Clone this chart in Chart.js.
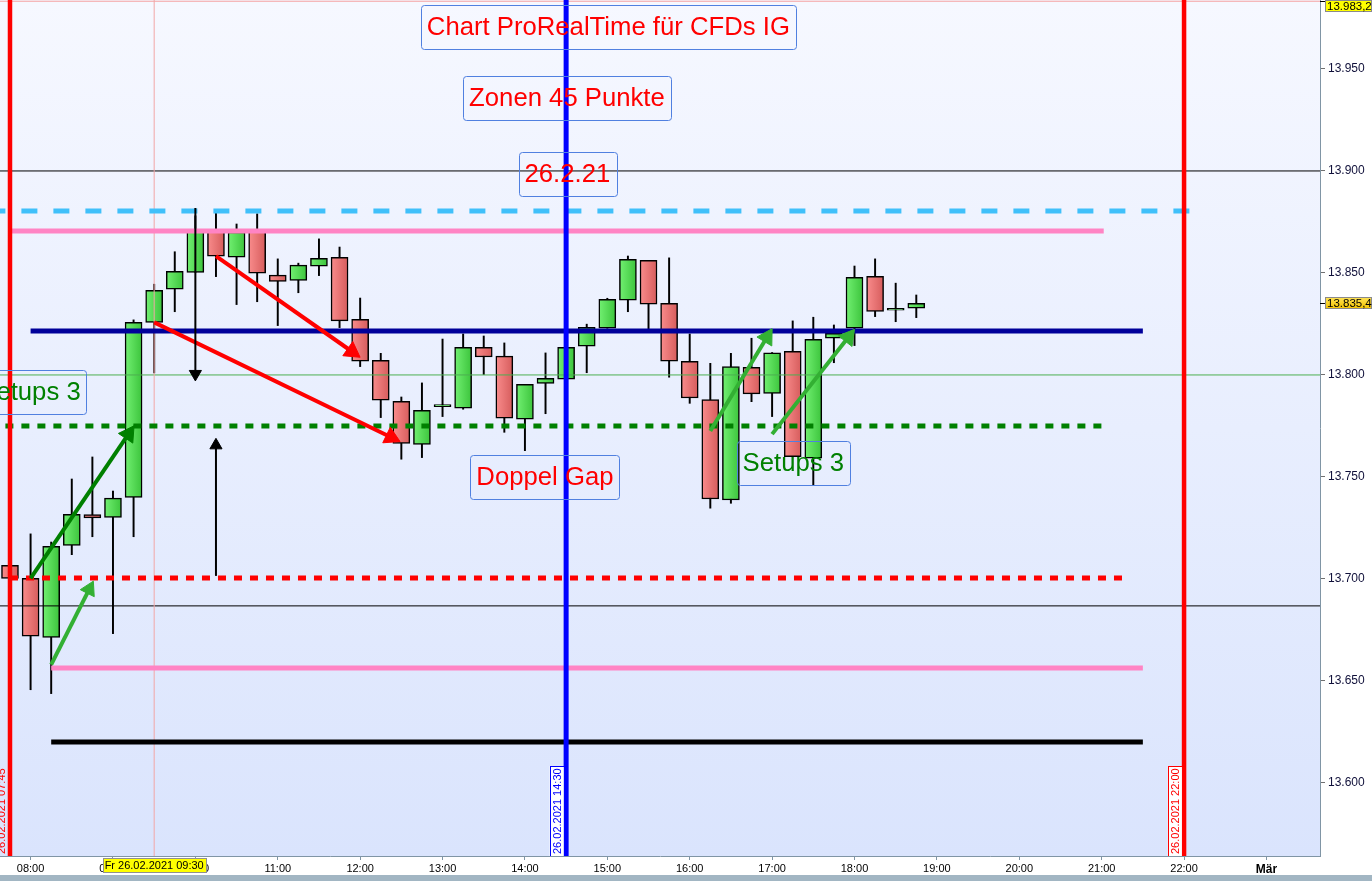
<!DOCTYPE html>
<html lang="de">
<head>
<meta charset="utf-8">
<title>Chart ProRealTime für CFDs IG</title>
<script src="https://cdn.jsdelivr.net/npm/chart.js@4.4.1/dist/chart.umd.min.js"></script>
<style>
  html, body { margin: 0; padding: 0; background: #ffffff; }
  #wrap { width: 1372px; height: 881px; }
</style>
</head>
<body>
<div id="wrap"><canvas id="chart" width="1372" height="881"></canvas></div>
<script>
// 15-minute candles, 26.02.2021
const times = ["07:45", "08:00", "08:15", "08:30", "08:45", "09:00", "09:15", "09:30", "09:45", "10:00",
  "10:15", "10:30", "10:45", "11:00", "11:15", "11:30", "11:45", "12:00", "12:15", "12:30",
  "12:45", "13:00", "13:15", "13:30", "13:45", "14:00", "14:15", "14:30", "14:45", "15:00",
  "15:15", "15:30", "15:45", "16:00", "16:15", "16:30", "16:45", "17:00", "17:15", "17:30",
  "17:45", "18:00", "18:15", "18:30", "18:45"];

const openVals = [13706.7, 13700.3, 13671.4, 13716.5, 13731.6, 13730.2, 13740.0, 13825.8, 13842.0, 13850.3,
  13871.0, 13857.7, 13870.5, 13848.9, 13846.4, 13853.3, 13857.7, 13827.3, 13807.2, 13787.1,
  13766.0, 13784.5, 13783.7, 13813.6, 13809.2, 13778.3, 13795.9, 13797.9, 13814.1, 13822.9,
  13836.6, 13856.2, 13835.1, 13806.7, 13787.9, 13738.7, 13803.8, 13791.0, 13811.6, 13759.2,
  13818.0, 13822.9, 13848.4, 13831.8, 13832.7];
const highVals = [13707.0, 13722.1, 13718.1, 13749.0, 13759.8, 13743.1, 13827.0, 13844.5, 13860.4, 13878.0,
  13880.9, 13874.0, 13879.0, 13856.9, 13854.8, 13866.7, 13862.7, 13837.7, 13810.6, 13789.2,
  13796.1, 13817.6, 13820.1, 13819.1, 13815.7, 13795.4, 13810.8, 13814.0, 13824.9, 13837.6,
  13858.3, 13856.2, 13857.4, 13820.1, 13805.7, 13810.6, 13818.0, 13811.0, 13826.5, 13828.3,
  13824.5, 13853.4, 13856.9, 13845.0, 13839.2];
const lowVals = [13700.0, 13645.7, 13643.8, 13711.9, 13720.7, 13673.2, 13720.7, 13801.0, 13831.0, 13850.3,
  13848.2, 13834.5, 13835.9, 13824.2, 13840.3, 13848.7, 13823.2, 13804.1, 13779.1, 13758.7,
  13759.5, 13779.6, 13783.2, 13800.2, 13771.9, 13762.9, 13781.0, 13797.0, 13801.1, 13822.9,
  13831.0, 13822.4, 13798.9, 13786.1, 13734.7, 13737.1, 13786.9, 13779.6, 13760.0, 13746.1,
  13806.0, 13814.4, 13828.6, 13826.1, 13828.1];
const closeVals = [13700.3, 13671.9, 13716.0, 13731.7, 13729.9, 13739.6, 13825.8, 13841.5, 13850.8, 13871.0,
  13858.2, 13870.0, 13849.9, 13845.9, 13853.8, 13857.2, 13826.5, 13806.7, 13787.6, 13766.5,
  13782.7, 13785.5, 13813.6, 13808.8, 13778.8, 13795.4, 13798.4, 13813.6, 13823.4, 13837.1,
  13856.7, 13834.7, 13806.7, 13788.7, 13739.2, 13804.1, 13790.7, 13810.9, 13760.0, 13817.5,
  13820.4, 13847.9, 13831.2, 13832.6, 13835.1];

// axis ticks (x in 15-min slots, slot 0 = 07:45)
const hourTicks = [1, 5, 9, 13, 17, 21, 25, 29, 33, 37, 41, 45, 49, 53, 57, 61];
const hourLabels = ["08:00", "09:00", "10:00", "11:00", "12:00", "13:00", "14:00", "15:00", "16:00",
  "17:00", "18:00", "19:00", "20:00", "21:00", "22:00", "Mär"];
const priceTicks = [13600, 13650, 13700, 13750, 13800, 13850, 13900, 13950];

// drawn zones: level, start slot, end slot
const zoneLevels = [13880.4, 13870.6, 13821.6, 13775.0, 13700.5, 13656.4, 13620.1];
const zoneFrom = [-1, 0, 1, -1, 0, 2, 2];
const zoneTo = [57.6, 53.1, 55.0, 53.1, 54.0, 55.0, 55.0];
const zoneStyles = [
  { color: "#40c0fa", width: 5, dash: [16, 16] },
  { color: "#ff84c4", width: 5, dash: [] },
  { color: "#00009a", width: 5, dash: [] },
  { color: "#008000", width: 5, dash: [8, 8] },
  { color: "#ff0000", width: 5, dash: [8, 8] },
  { color: "#ff84c4", width: 5, dash: [] },
  { color: "#000000", width: 5, dash: [] },
];

// thin full-width reference lines
const refLevels = [13983.2, 13900, 13800, 13686.8];
const refColors = ["#f4a0a0", "#000000", "#4caf50", "#000000"];

// vertical time markers (slot)
const markerSlots = [0, 27, 57, 7];
const markerLabels = ["26.02.2021 07:45", "26.02.2021 14:30", "26.02.2021 22:00", ""];
const markerStyles = [
  { color: "#ff0000", width: 4.5 },
  { color: "#0000ff", width: 5 },
  { color: "#ff0000", width: 4.5 },
  { color: "#f2a6a6", width: 1 },
];

// arrows: start slot/price -> arrowhead slot/price
const arrowStartX = [9, 10, 10, 7, 1, 2, 34, 37];
const arrowStartY = [13881.9, 13701.5, 13858.2, 13825.8, 13700.3, 13658.0, 13772.5, 13771.0];
const arrowEndX = [9, 10, 16.6, 18.5, 5.75, 3.85, 36.75, 40.7];
const arrowEndY = [13800.5, 13765.5, 13811.5, 13769.5, 13771.0, 13695.0, 13818.5, 13818.5];
const arrowStyles = [
  { color: "#000000", width: 2, head: 7 },
  { color: "#000000", width: 2, head: 7 },
  { color: "#ff0000", width: 4, head: 10 },
  { color: "#ff0000", width: 4, head: 10 },
  { color: "#008000", width: 4, head: 10 },
  { color: "#33b033", width: 4, head: 9 },
  { color: "#33b033", width: 4, head: 10 },
  { color: "#33b033", width: 4, head: 10 },
];

// text notes: text, slot, price (centre)
const noteTexts = ["Chart ProRealTime für CFDs IG", "Zonen 45 Punkte", "26.2.21", "Setups 3", "Doppel Gap", "Setups 3"];
const noteSlots = [29.05, 27.04, 27.06, 0.97, 25.97, 38.03];
const notePrices = [13970.6, 13935.8, 13898.5, 13791.7, 13750.0, 13756.9];
const noteColors = ["#ff0000", "#ff0000", "#ff0000", "#008000", "#ff0000", "#008000"];

const X_MIN = -0.485;
const X_MAX = 63.6;
const Y_MIN = 13564.2;
const Y_MAX = 13983.8;
const FONT = "'Liberation Sans', Arial, sans-serif";

const isUp = (i) => closeVals[i] >= openVals[i];

// horizontal gradient for candle bodies
const bodyFill = (ctx) => {
  const i = ctx.dataIndex;
  const up = isUp(i);
  const xs = ctx.chart.scales.x;
  if (!xs || !xs.width) return up ? "#55d855" : "#e87373";
  const cx = xs.getPixelForValue(i);
  const g = ctx.chart.ctx.createLinearGradient(cx - 8.5, 0, cx + 8.5, 0);
  g.addColorStop(0, up ? "#72f072" : "#f98c8c");
  g.addColorStop(1, up ? "#3cc43c" : "#d65c5c");
  return g;
};

// scales should not reserve room for overhanging labels
const noPadding = (scale) => {
  scale.paddingLeft = 0;
  scale.paddingRight = 0;
  scale.paddingTop = 0;
  scale.paddingBottom = 0;
};

const datasets = [];

datasets.push({
  type: "bar",
  label: "body",
  data: times.map((t, i) => ({ x: i, y: [openVals[i], closeVals[i]] })),
  backgroundColor: bodyFill,
  borderColor: "#000000",
  borderWidth: 1.5,
  borderSkipped: false,
  barThickness: 17,
  grouped: false,
  order: 9,
});

datasets.push({
  type: "bar",
  label: "wick",
  data: times.map((t, i) => ({ x: i, y: [lowVals[i], highVals[i]] })),
  backgroundColor: "#000000",
  borderWidth: 0,
  barThickness: 1.3,
  grouped: false,
  order: 10,
});

refLevels.forEach((v, k) => {
  datasets.push({
    type: "line",
    data: [{ x: X_MIN, y: v }, { x: X_MAX, y: v }],
    borderColor: refColors[k],
    borderWidth: 1,
    pointRadius: 0,
    order: 8,
  });
});

zoneLevels.forEach((v, k) => {
  const s = zoneStyles[k];
  datasets.push({
    type: "line",
    data: [{ x: zoneFrom[k], y: v }, { x: zoneTo[k], y: v }],
    borderColor: s.color,
    borderWidth: s.width,
    borderDash: s.dash,
    borderCapStyle: "butt",
    pointRadius: 0,
    order: 5,
  });
});

markerSlots.forEach((slot, k) => {
  const s = markerStyles[k];
  datasets.push({
    type: "line",
    data: [{ x: slot, y: Y_MIN - 10 }, { x: slot, y: Y_MAX + 10 }],
    borderColor: s.color,
    borderWidth: s.width,
    pointRadius: 0,
    order: k === 3 ? 7 : 4,
  });
});

// rotate the triangle so it points along the arrow shaft (in pixel space)
const headRotation = (k) => (ctx) => {
  const xs = ctx.chart.scales.x;
  const ys = ctx.chart.scales.y;
  if (!xs || !ys || !xs.width) return 0;
  const dx = xs.getPixelForValue(arrowEndX[k]) - xs.getPixelForValue(arrowStartX[k]);
  const dy = ys.getPixelForValue(arrowEndY[k]) - ys.getPixelForValue(arrowStartY[k]);
  return (Math.atan2(dy, dx) * 180) / Math.PI + 90;
};

arrowStartX.forEach((sx, k) => {
  const s = arrowStyles[k];
  datasets.push({
    type: "line",
    data: [{ x: sx, y: arrowStartY[k] }, { x: arrowEndX[k], y: arrowEndY[k] }],
    borderColor: s.color,
    borderWidth: s.width,
    pointStyle: "triangle",
    pointRadius: [0, s.head],
    pointBackgroundColor: s.color,
    pointBorderColor: s.color,
    pointBorderWidth: 1,
    pointRotation: headRotation(k),
    order: 1,
  });
});

const roundRect = (ctx, x, y, w, h, r) => {
  ctx.beginPath();
  ctx.moveTo(x + r, y);
  ctx.lineTo(x + w - r, y);
  ctx.quadraticCurveTo(x + w, y, x + w, y + r);
  ctx.lineTo(x + w, y + h - r);
  ctx.quadraticCurveTo(x + w, y + h, x + w - r, y + h);
  ctx.lineTo(x + r, y + h);
  ctx.quadraticCurveTo(x, y + h, x, y + h - r);
  ctx.lineTo(x, y + r);
  ctx.quadraticCurveTo(x, y, x + r, y);
  ctx.closePath();
};

const overlay = {
  id: "overlay",
  beforeDraw(chart) {
    const { ctx, chartArea: a } = chart;
    ctx.save();
    const g = ctx.createLinearGradient(0, a.top, 0, a.bottom);
    g.addColorStop(0, "#f6f8ff");
    g.addColorStop(1, "#dae4fd");
    ctx.fillStyle = g;
    ctx.fillRect(a.left, a.top, a.right - a.left, a.bottom - a.top);
    ctx.fillStyle = "#a2b6c3";
    ctx.fillRect(0, chart.height - 6, chart.width, 6);
    ctx.restore();
  },
  afterDraw(chart) {
    const { ctx, chartArea: a } = chart;
    const xs = chart.scales.x;
    const ys = chart.scales.y;
    ctx.save();
    ctx.beginPath();
    ctx.rect(a.left, a.top, a.right - a.left, a.bottom - a.top);
    ctx.clip();

    // note boxes
    ctx.font = "25.7px " + FONT;
    ctx.textAlign = "center";
    ctx.textBaseline = "middle";
    noteTexts.forEach((txt, k) => {
      const cx = xs.getPixelForValue(noteSlots[k]);
      const cy = ys.getPixelForValue(notePrices[k]);
      const w = ctx.measureText(txt).width + 12;
      const h = 44;
      ctx.lineWidth = 1;
      ctx.strokeStyle = "#5080e0";
      roundRect(ctx, Math.round(cx - w / 2) + 0.5, Math.round(cy - h / 2) + 0.5, Math.round(w), h, 3);
      ctx.stroke();
      ctx.fillStyle = noteColors[k];
      ctx.fillText(txt, cx, cy + 1);
    });

    // rotated date labels next to the vertical markers
    ctx.font = "11px " + FONT;
    markerSlots.forEach((slot, k) => {
      if (!markerLabels[k]) return;
      const px = xs.getPixelForValue(slot);
      const color = markerStyles[k].color;
      const bw = 14;
      const bh = 90;
      const bx = px - markerStyles[k].width / 2 - bw;
      const by = a.bottom - bh;
      if (k > 0) {
        ctx.fillStyle = "#ffffff";
        ctx.fillRect(bx, by, bw, bh);
        ctx.strokeStyle = color;
        ctx.lineWidth = 1;
        ctx.strokeRect(Math.round(bx) + 0.5, by + 0.5, bw, bh);
      }
      ctx.save();
      ctx.translate(bx + bw / 2 + 1, a.bottom - 2);
      ctx.rotate(-Math.PI / 2);
      ctx.textAlign = "left";
      ctx.textBaseline = "middle";
      ctx.fillStyle = color;
      ctx.fillText(markerLabels[k], 0, 0);
      ctx.restore();
    });
    ctx.restore();

    // price labels on the right axis
    ctx.save();
    ctx.font = "11.5px " + FONT;
    ctx.textAlign = "left";
    ctx.textBaseline = "middle";
    const priceTag = (value, text, fill) => {
      const py = ys.getPixelForValue(value);
      const top = Math.max(0, Math.round(py - 6));
      ctx.strokeStyle = "#000000";
      ctx.beginPath();
      ctx.moveTo(a.right, Math.round(py) + 0.5);
      ctx.lineTo(a.right + 5, Math.round(py) + 0.5);
      ctx.stroke();
      ctx.fillStyle = fill;
      ctx.fillRect(a.right + 5, top, 47, 12);
      ctx.strokeStyle = "#8a8a8a";
      ctx.strokeRect(a.right + 5.5, top + 0.5, 46, 11);
      ctx.fillStyle = "#000000";
      ctx.fillText(text, a.right + 7, top + 6.5);
    };
    priceTag(13983.2, "13.983,2", "#ffff00");
    const lg = ctx.createLinearGradient(0, ys.getPixelForValue(13835.4) - 6, 0, ys.getPixelForValue(13835.4) + 6);
    lg.addColorStop(0, "#ffe45a");
    lg.addColorStop(1, "#f5c400");
    priceTag(closeVals[closeVals.length - 1] + 0.3, "13.835,4", lg);

    // cursor time label under the x axis
    const tx = xs.getPixelForValue(7);
    ctx.font = "11px " + FONT;
    const label = "Fr 26.02.2021 09:30";
    const lw = ctx.measureText(label).width + 4;
    ctx.fillStyle = "#ffff00";
    ctx.fillRect(Math.round(tx - lw / 2), a.bottom + 2, Math.round(lw), 15);
    ctx.strokeStyle = "#909090";
    ctx.strokeRect(Math.round(tx - lw / 2) + 0.5, a.bottom + 2.5, Math.round(lw), 14);
    ctx.fillStyle = "#000000";
    ctx.textAlign = "center";
    ctx.fillText(label, tx, a.bottom + 10);
    ctx.restore();
  },
};

new Chart(document.getElementById("chart"), {
  type: "bar",
  data: { datasets },
  options: {
    responsive: false,
    animation: false,
    devicePixelRatio: 1,
    layout: { padding: 0, autoPadding: false },
    plugins: {
      legend: { display: false },
      tooltip: { enabled: false },
    },
    scales: {
      x: {
        type: "linear",
        min: X_MIN,
        max: X_MAX,
        offset: false,
        afterFit: (scale) => { scale.height = 25; noPadding(scale); },
        afterBuildTicks: (scale) => { scale.ticks = hourTicks.map((v) => ({ value: v })); },
        grid: { offset: false, drawOnChartArea: false, drawTicks: true, tickLength: 4, tickColor: "#8095a5" },
        border: { color: "#8095a5", width: 1 },
        ticks: {
          autoSkip: false,
          maxRotation: 0,
          padding: 2,
          color: "#000000",
          font: (c) => (c.tick && c.tick.value === 61
            ? { family: FONT, size: 12, weight: "bold" }
            : { family: FONT, size: 11 }),
          callback: (v) => hourLabels[hourTicks.indexOf(v)] || "",
        },
      },
      y: {
        type: "linear",
        position: "right",
        min: Y_MIN,
        max: Y_MAX,
        afterFit: (scale) => { scale.width = 52; noPadding(scale); },
        afterBuildTicks: (scale) => { scale.ticks = priceTicks.map((v) => ({ value: v })); },
        grid: { drawOnChartArea: false, drawTicks: true, tickLength: 5, tickColor: "#707070" },
        border: { color: "#8095a5", width: 1 },
        ticks: {
          padding: 3,
          color: "#10103a",
          font: { family: FONT, size: 12 },
          callback: (v) => v.toLocaleString("de-DE"),
        },
      },
    },
  },
  plugins: [overlay],
});
</script>
</body>
</html>
